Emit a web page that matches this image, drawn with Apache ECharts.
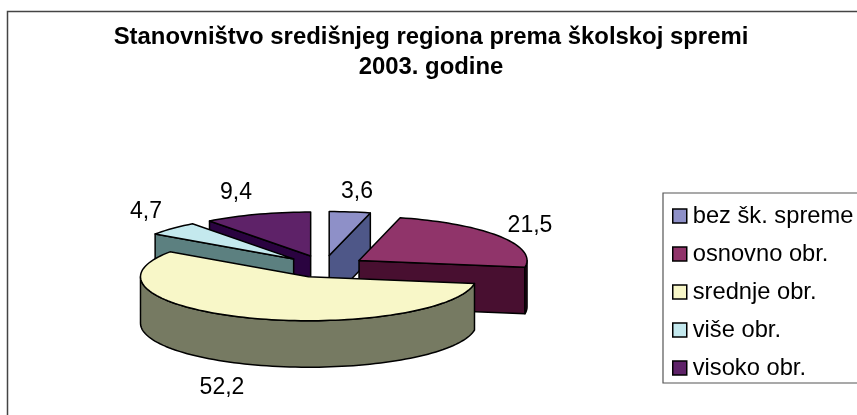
<!DOCTYPE html>
<html><head><meta charset="utf-8">
<style>html,body{margin:0;padding:0;background:#fff}#c{width:857px;height:415px}</style>
<script src="https://cdn.jsdelivr.net/npm/echarts@6/dist/echarts.min.js"></script></head>
<body><div id="c"></div>
<script>
const categories = ['bez šk. spreme','osnovno obr.','srednje obr.','više obr.','visoko obr.'];
const values = [3.6,21.5,52.2,4.7,9.4];
const topColors = ['#8E90C8','#90346A','#F8F7C8','#C4E9EE','#5E2268'];
const sideColors = ['#4E5788','#480F30','#767A62','#5C8080','#2A0340'];
const drawOrder = [2,5,6,4,3];           // back-to-front stacking of the slices

const FONT = '"Liberation Sans", Arial, sans-serif';
const CX = 324, CY = 266.5, RX = 168, RY = 44, DEPTH = 46.5, EXPLODE = 0.25;
const total = values.reduce((a,b)=>a+b,0);
const pt = (c, a, r=1) => [c[0]+RX*r*Math.sin(a), c[1]-RY*r*Math.cos(a)];
const down = p => [p[0], p[1]+DEPTH];
const DEG = Math.PI/180;
const lineStyle = (fill) => ({fill, stroke:'#000', lineWidth:1.5, lineJoin:'round'});

function arc(c, a0, a1){
  const out=[]; const n=Math.max(2,Math.ceil((a1-a0)/(2*DEG)));
  for(let i=0;i<=n;i++) out.push(pt(c,a0+(a1-a0)*i/n));
  return out;
}
function renderSlice(i){
  return function(params, api){
    const v = api.value(0);
    let before = 0; for(let k=0;k<i;k++) before+=values[k];
    const a0 = before/total*2*Math.PI, a1 = (before+v)/total*2*Math.PI, mid=(a0+a1)/2;
    const apex = pt([CX,CY], mid, EXPLODE);
    const kids = [];
    const quad = (p,q)=>({type:'polygon',shape:{points:[p,q,down(q),down(p)]},style:lineStyle(sideColors[i])});
    if(Math.sin(a1)>1e-6) kids.push(quad(apex,pt(apex,a1)));
    if(Math.sin(a0)<-1e-6) kids.push(quad(apex,pt(apex,a0)));
    const r0=Math.max(a0,Math.PI/2), r1=Math.min(a1,3*Math.PI/2);
    if(r1>r0){
      const upper=arc(apex,r0,r1);
      kids.push({type:'polygon',shape:{points:upper.concat(upper.map(down).reverse())},style:lineStyle(sideColors[i])});
    }
    kids.push({type:'polygon',shape:{points:[apex].concat(arc(apex,a0,a1))},style:lineStyle(topColors[i])});
    return {type:'group',children:kids};
  };
}
const series = categories.map((name,i)=>({
  type:'custom', name, coordinateSystem:'none', silent:true, z:drawOrder[i],
  itemStyle:{color:topColors[i]},
  renderItem:renderSlice(i), data:[[values[i]]]
}));
// data labels, placed around the pie
const labelCenters = [[357,192],[530,226],[222,388],[146,212],[236,193]];
series.push({
  type:'custom', coordinateSystem:'none', silent:true, z:10,
  renderItem:(p,api)=>({type:'text',style:{
    text:String(api.value(0)).replace('.',','), x:labelCenters[p.dataIndex][0], y:labelCenters[p.dataIndex][1],
    textAlign:'center', textVerticalAlign:'middle', font:'23px '+FONT, fill:'#000'}}),
  data:values.map(v=>[v])
});
const chart = echarts.init(document.getElementById('c'),null,{renderer:'canvas'});
chart.setOption({
  animation:false, backgroundColor:'#fff',
  title:{text:'Stanovništvo središnjeg regiona prema školskoj spremi\n2003. godine',
    left:426, top:17, textAlign:'center',
    textStyle:{fontFamily:FONT,fontWeight:'bold',fontSize:23.9,lineHeight:30,color:'#000'}},
  legend:{orient:'vertical', left:663, top:193, selectedMode:false, padding:[11,40,3,9],
    borderColor:'#555', borderWidth:1.2, itemWidth:14, itemHeight:14, itemGap:14,
    textStyle:{fontFamily:FONT,fontSize:23.7,lineHeight:24,color:'#000',padding:[0,0,0,1]},
    data:categories.map((name,i)=>({name,icon:'rect',itemStyle:{color:topColors[i],borderColor:'#000',borderWidth:1.5}}))},
  graphic:[{type:'rect',silent:true,z:-1,shape:{x:7.5,y:11.5,width:880,height:440},style:{fill:'none',stroke:'#444',lineWidth:1.5}}],
  series
});
</script></body></html>
